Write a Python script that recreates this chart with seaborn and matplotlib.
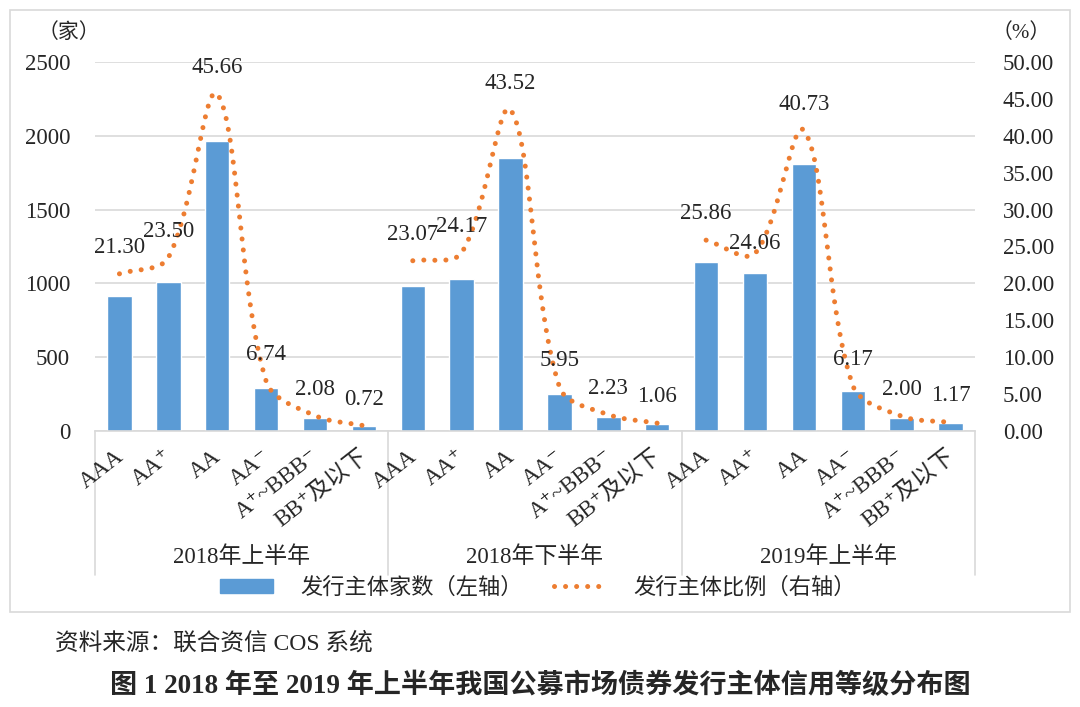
import numpy as np
import pandas as pd
import matplotlib
matplotlib.use("Agg")
import matplotlib.pyplot as plt
import seaborn as sns
from matplotlib.patches import Patch, Rectangle
from matplotlib.lines import Line2D

sns.set_theme(style="white")
FAM = ['Liberation Serif', 'Noto Sans CJK SC', 'DejaVu Sans']
plt.rcParams['font.family'] = FAM

# ---------------- data ----------------
periods = ["2018年上半年", "2018年下半年", "2019年上半年"]
ratings = ["AAA", "AA⁺", "AA", "AA⁻", "A⁺~BBB⁻", "BB⁺及以下"]
counts_2018h1 = [915, 1010, 1962, 290, 89, 31]
counts_2018h2 = [981, 1027, 1850, 253, 95, 45]
counts_2019h1 = [1148, 1069, 1809, 274, 89, 52]
pct_2018h1 = [21.30, 23.50, 45.66, 6.74, 2.08, 0.72]
pct_2018h2 = [23.07, 24.17, 43.52, 5.95, 2.23, 1.06]
pct_2019h1 = [25.86, 24.06, 40.73, 6.17, 2.00, 1.17]
left_ticks = [0, 500, 1000, 1500, 2000, 2500]
right_ticks = [0, 5, 10, 15, 20, 25, 30, 35, 40, 45, 50]

counts = [counts_2018h1, counts_2018h2, counts_2019h1]
pcts = [pct_2018h1, pct_2018h2, pct_2019h1]

# style: label offsets (points above the marker); one label sits lower in the reference
LABEL_DY = 19
LABEL_DY_OVERRIDE = {(2, 1): 7}

BLUE = "#5B9BD5"
ORANGE = "#ED7D31"
GRID = "#D9D9D9"

rows = []
for gi, p in enumerate(periods):
    for ri, r in enumerate(ratings):
        rows.append({"slot": f"{gi}-{ri}", "period": p, "rating": r,
                     "count": counts[gi][ri], "pct": pcts[gi][ri]})
df = pd.DataFrame(rows)
order = list(df["slot"])

W, H = 1080, 707
fig = plt.figure(figsize=(W / 100, H / 100), dpi=100)
fig.patch.set_facecolor("white")

# outer border of chart area
fig.add_artist(Rectangle((10 / W, 1 - 612 / H), 1060 / W, 602 / H,
                         transform=fig.transFigure, fill=False,
                         edgecolor="#D9D9D9", linewidth=1.2))

AX_W, AX_H = 880, 369
ax = fig.add_axes([95 / W, 1 - 431 / H, AX_W / W, AX_H / H])
sns.barplot(data=df, x="slot", y="count", order=order, color=BLUE,
            width=0.5, ax=ax, saturation=1)
ax.set_xlim(-0.5, len(order) - 0.5)
ax.set_ylim(0, 2500)
ax.set_yticks(left_ticks)
ax.set_yticklabels([str(t) for t in left_ticks], fontsize=16.5)
ax.yaxis.grid(True, color=GRID, linewidth=1.2)
ax.set_axisbelow(True)
for s in ["left", "right", "top"]:
    ax.spines[s].set_visible(False)
ax.spines["bottom"].set_color(GRID)
ax.spines["bottom"].set_linewidth(1.2)
ax.tick_params(axis="both", length=0, pad=18)
ax.set_xlabel("")
ax.set_ylabel("")
ax.set_xticks(range(len(order)))
ax.set_xticklabels([])

# rotated category labels
xtr = ax.get_xaxis_transform()
for i, row in df.iterrows():
    ax.text(i - 0.1, -0.04, row["rating"], transform=xtr, rotation=38,
            rotation_mode="anchor", ha="right", va="top", fontsize=16.5,
            family=FAM, clip_on=False)

# group separators and group labels
for b in [-0.5, 5.5, 11.5, 17.5]:
    ax.plot([b, b], [0, -144 / 369], transform=xtr, color=GRID,
            linewidth=1.2, clip_on=False)
for gi, p in enumerate(periods):
    ax.text(gi * 6 + 2.5, -126 / 369, p, transform=xtr, ha="center",
            va="center", fontsize=16.5, family=FAM)

# right axis with smoothed dotted line
ax2 = ax.twinx()
ax2.set_ylim(0, 50)
ax2.set_yticks(right_ticks)
ax2.set_yticklabels([f"{t:.2f}" for t in right_ticks], fontsize=16.5)
ax2.tick_params(axis="y", length=0, pad=20)
for s in ["left", "right", "top", "bottom"]:
    ax2.spines[s].set_visible(False)
ax2.grid(False)

SX = AX_W / len(order)   # px per category slot
SY = AX_H / 50.0         # px per percent


def smooth(xs, ys, n=40):
    """Excel-like smoothing: cubic Bezier with distance-weighted control arms (screen space)."""
    P = np.column_stack([np.asarray(xs, float) * SX, np.asarray(ys, float) * SY])
    m = len(P)
    before = np.zeros_like(P)
    after = np.zeros_like(P)
    for i in range(m):
        if i == 0:
            after[i] = P[0] + (P[1] - P[0]) / 3
        elif i == m - 1:
            before[i] = P[-1] - (P[-1] - P[-2]) / 3
        else:
            T = P[i + 1] - P[i - 1]
            d0 = np.linalg.norm(P[i] - P[i - 1])
            d1 = np.linalg.norm(P[i + 1] - P[i])
            before[i] = P[i] - T * d0 / (d0 + d1) / 3
            after[i] = P[i] + T * d1 / (d0 + d1) / 3
    t = np.linspace(0, 1, n)[:, None]
    segs = []
    for i in range(m - 1):
        b = ((1 - t) ** 3 * P[i] + 3 * (1 - t) ** 2 * t * after[i]
             + 3 * (1 - t) * t ** 2 * before[i + 1] + t ** 3 * P[i + 1])
        segs.append(b)
    out = np.vstack(segs)
    return out[:, 0] / SX, out[:, 1] / SY


for gi in range(len(periods)):
    xs = np.arange(6) + gi * 6
    sx, sy = smooth(xs, pcts[gi])
    ax2.plot(sx, sy, color=ORANGE, linewidth=3.6, linestyle=(0, (0.01, 2.2)),
             dash_capstyle="round", solid_capstyle="round")
    for ri, (x, v) in enumerate(zip(xs, pcts[gi])):
        dy = LABEL_DY_OVERRIDE.get((gi, ri), LABEL_DY)
        ax2.annotate(f"{v:.2f}", (x, v), xytext=(0, dy), textcoords="offset points",
                     ha="center", va="center", fontsize=16.5, family=FAM)

# unit labels
fig.text(69 / W, 1 - 33 / H, "（家）", ha="center", va="center", fontsize=15, family=FAM)
fig.text(1021 / W, 1 - 33 / H, "（%）", ha="center", va="center", fontsize=15, family=FAM)

# legend
handles = [Patch(facecolor=BLUE, edgecolor=BLUE),
           Line2D([0], [0], color=ORANGE, linewidth=3.6, linestyle=(0, (0.01, 2.2)),
                  dash_capstyle="round")]
leg = fig.legend(handles, ["发行主体家数（左轴）", "发行主体比例（右轴）"],
                 loc="center", bbox_to_anchor=(538 / W, 1 - 588 / H), ncol=2,
                 frameon=False, prop={"family": FAM, "size": 16},
                 handlelength=2.4, handleheight=0.55, handletextpad=1.2,
                 columnspacing=1.4)

# source and caption
fig.text(55 / W, 1 - 643 / H, "资料来源：联合资信 COS 系统", ha="left", va="center",
         fontsize=17, family=FAM)
fig.text(540 / W, 1 - 686 / H, "图 1 2018 年至 2019 年上半年我国公募市场债券发行主体信用等级分布图",
         ha="center", va="center", fontsize=19.5, fontweight="bold", family=FAM)

fig.savefig("out.png", dpi=100, facecolor="white")
